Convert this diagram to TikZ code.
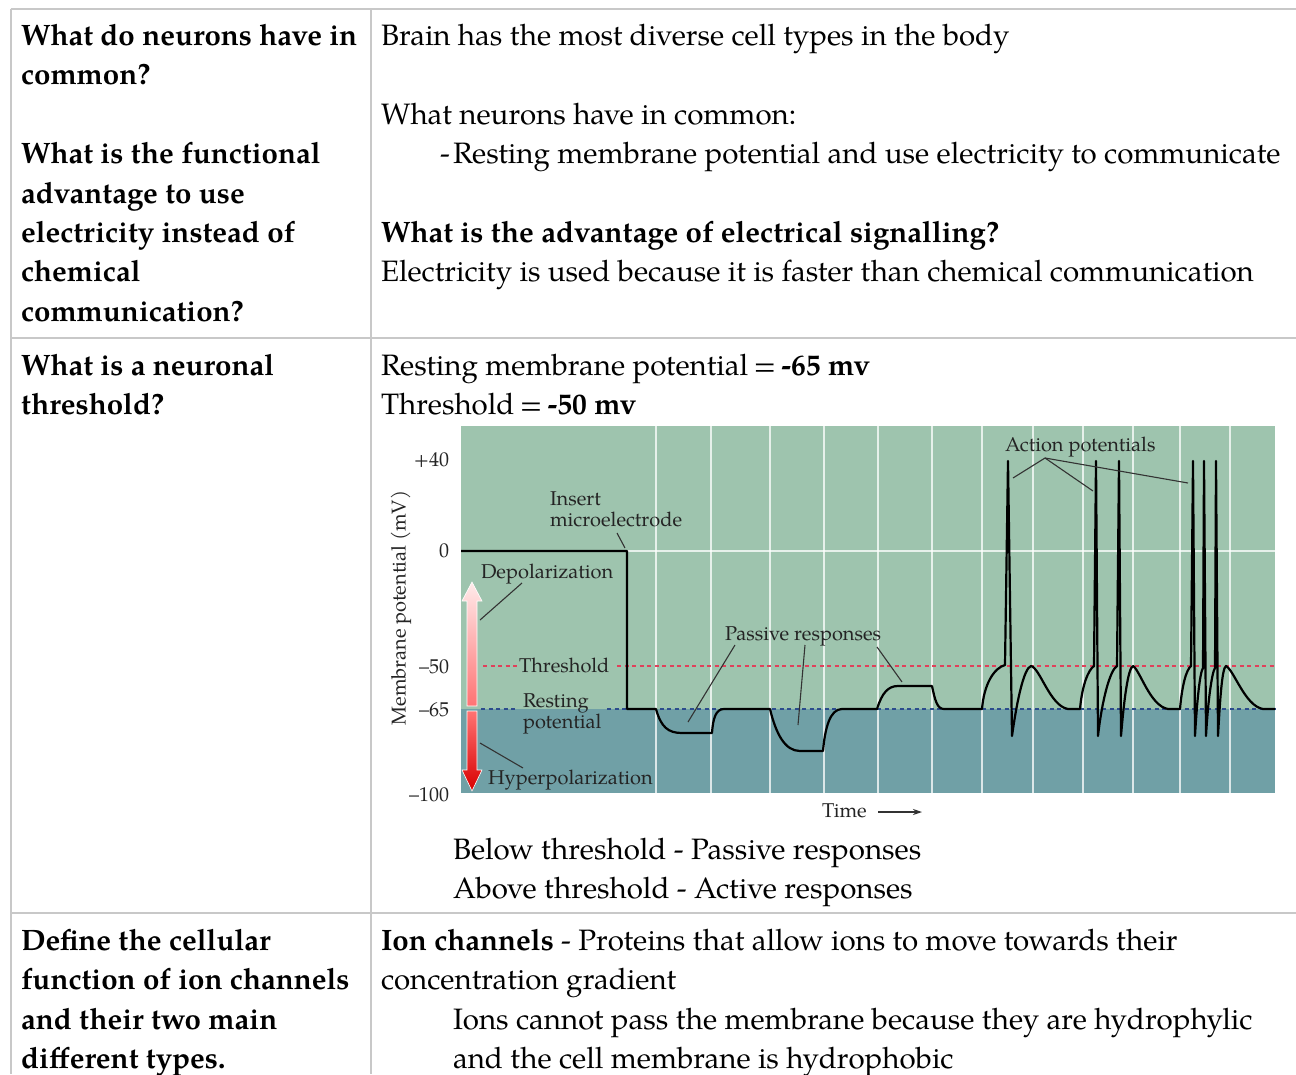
\documentclass[tikz,border=0pt]{standalone}
\usepackage{fontspec}
\setmainfont{texgyrepagella}[Extension=.otf, UprightFont=*-regular, BoldFont=*-bold, ItalicFont=*-italic, BoldItalicFont=*-bolditalic]
\usetikzlibrary{arrows.meta}
\definecolor{rulegray}{HTML}{C8C8C8}
\definecolor{upgreen}{HTML}{9EC4AE}
\definecolor{lowteal}{HTML}{70A0A6}
\definecolor{thrred}{HTML}{E0405A}
\definecolor{restblue}{HTML}{2C4C8C}
\definecolor{labtext}{HTML}{242424}
\definecolor{leadgray}{HTML}{333333}
\tikzset{
  body/.style={inner sep=0pt, outer sep=0pt, anchor=base west, font=\fontsize{29.5}{39.5}\selectfont, text=black},
  qbold/.style={body, font=\fontsize{29.5}{39.5}\selectfont\bfseries},
  lab/.style={inner sep=0pt, outer sep=0pt, anchor=base west, font=\fontsize{20}{22}\selectfont, text=labtext},
  tick/.style={lab, anchor=base east},
  tablerule/.style={draw=rulegray, line width=2pt},
  gridline/.style={draw=white, line width=1.5pt, opacity=0.75},
  leader/.style={draw=leadgray, line width=1.1pt},
  trace/.style={draw=black, line width=2.2pt, line join=round},
}
\begin{document}
\begin{tikzpicture}[x=1pt,y=-1pt]
\useasboundingbox (0,0) rectangle (1296,1074);
\fill[white] (0,0) rectangle (1296,1074);

% ---------- table rules ----------
\draw[tablerule] (10.5,8.5) -- (1296,8.5);
\draw[tablerule] (10.5,8.5) -- (10.5,1074);
\draw[tablerule] (370.5,8.5) -- (370.5,1074);
\draw[tablerule] (10.5,338) -- (1296,338);
\draw[tablerule] (10.5,913) -- (1296,913);

% ---------- row 1 ----------
\node[qbold] (q1a) at (21,45.5) {What do neurons have in};
\node[qbold] (q1b) at (21,84.9) {common?};
\node[qbold] (q1c) at (21,163.7) {What is the functional};
\node[qbold] (q1d) at (21,203.1) {advantage to use};
\node[qbold] (q1e) at (21,242.5) {electricity instead of};
\node[qbold] (q1f) at (21,281.9) {chemical};
\node[qbold] (q1g) at (21,321.3) {communication?};

\node[body] (a1a) at (381,45.5) {Brain has the most diverse cell types in the body};
\node[body] (a1b) at (381,124.3) {What neurons have in common:};
\node[body] (a1c) at (440,163.7) {-};
\node[body] (a1d) at (453,163.7) {Resting membrane potential and use electricity to communicate};
\node[qbold] (a1e) at (381,242.5) {What is the advantage of electrical signalling?};
\node[body] (a1f) at (381,281.9) {Electricity is used because it is faster than chemical communication};

% ---------- row 2 ----------
\node[qbold] (q2a) at (21,375.5) {What is a neuronal};
\node[qbold] (q2b) at (21,414.9) {threshold?};
\node[body] (a2a) at (381,375.5) {Resting membrane potential \kern-2pt=\kern-2pt{} \textbf{-65 mv}};
\node[body] (a2b) at (381,414.9) {Threshold \kern-2pt=\kern-2pt{} \textbf{-50 mv}};
\node[body] (a2c) at (453,859.5) {Below threshold - Passive responses};
\node[body] (a2d) at (453,898.9) {Above threshold - Active responses};

% ---------- chart ----------
\fill[upgreen] (461,426) rectangle (1275,709);
\fill[lowteal] (461,709) rectangle (1275,793);
\foreach \gx in {656,711,770,824,878,932,982,1033,1083,1133,1180,1230}
  \draw[gridline] (\gx,426) -- (\gx,793);
\draw[gridline] (627,551) -- (1275,551);

% threshold and resting lines
\draw[thrred, line width=2pt, dash pattern=on 4pt off 3.5pt] (483,666) -- (517,666);
\draw[thrred, line width=2pt, dash pattern=on 4pt off 3.5pt] (617,666) -- (1275,666);
\draw[restblue, line width=2pt, dash pattern=on 4pt off 3.5pt] (481,709) -- (517,709);
\draw[restblue, line width=2pt, dash pattern=on 4pt off 3.5pt] (607,709) -- (1275,709);

% depolarization / hyperpolarization arrows
\shade[top color=red!8!white, bottom color=red!55!white, draw=white, line width=0.6pt]
  (467,706) -- (467,601) -- (462,601) -- (472,582) -- (482,601) -- (477,601) -- (477,706) -- cycle;
\shade[top color=red!55!white, bottom color=red!85!black, draw=white, line width=0.6pt]
  (467,711) -- (467,770) -- (462,770) -- (472,791) -- (482,770) -- (477,770) -- (477,711) -- cycle;

% trace
\draw[trace] (461,551) -- (627,551) -- (627,709) -- (656,709)
  .. controls (661,727) and (668,733) .. (682,733) -- (712,733)
  .. controls (713,718) and (716,709) .. (724,709) -- (770,709)
  .. controls (776,734) and (785,751) .. (800,751) -- (823,751)
  .. controls (825,728) and (830,709) .. (842,709) -- (877,709)
  .. controls (882,693) and (888,686) .. (898,686) -- (932,686)
  .. controls (935,700) and (937,709) .. (944,709) -- (982,709)
  .. controls (984,684) and (994,668) .. (1005,665) -- (1008,461) -- (1012,736)
  .. controls (1017,700) and (1024,668) .. (1031,666)
  .. controls (1040,668) and (1050,706) .. (1068,709) -- (1080,709)
  .. controls (1082,686) and (1088,670) .. (1094,666) -- (1096,461) -- (1098,736)
  .. controls (1102,700) and (1110,670) .. (1117,666) -- (1119,461) -- (1121,736)
  .. controls (1124,700) and (1128,668) .. (1133,666)
  .. controls (1140,670) and (1150,706) .. (1168,709) -- (1180,709)
  .. controls (1182,686) and (1186,670) .. (1191,666) -- (1193,461) -- (1195,736)
  .. controls (1197,700) and (1200,672) .. (1203,668) -- (1204,461) -- (1206,736)
  .. controls (1208,700) and (1212,672) .. (1215,668) -- (1216,461) -- (1218,736)
  .. controls (1220,700) and (1222,668) .. (1226,666)
  .. controls (1234,670) and (1245,706) .. (1263,709) -- (1275,709);

% axis tick labels
\node[tick] (t40) at (449,466) {+40};
\node[tick] (t0) at (449,557) {0};
\node[tick] (t50) at (449,673) {–50};
\node[tick] (t65) at (449,716) {–65};
\node[tick] (t100) at (449,801) {–100};
\node[lab, anchor=center, rotate=90] (ylab) at (401,608) {Membrane potential (mV)};

% labels
\node[lab] (ins1) at (550,505) {Insert};
\node[lab] (ins2) at (550,526) {microelectrode};
\node[lab] (depol) at (481,578) {Depolarization};
\node[lab] (thr) at (519,672) {Threshold};
\node[lab] (rest1) at (523,707) {Resting};
\node[lab] (rest2) at (523,728) {potential};
\node[lab] (hyper) at (488,784) {Hyperpolarization};
\node[lab] (pass) at (725,640) {Passive responses};
\node[lab] (act) at (1005,451) {Action potentials};
\node[lab] (time) at (822,817) {Time};

% leader lines
\coordinate (insT) at (617,533); \coordinate (insH) at (625,548);
\draw[leader] (insT) -- (insH);
\coordinate (depT) at (522,583); \coordinate (depH) at (480,620);
\draw[leader] (depT) -- (depH);
\coordinate (hypT) at (523,768); \coordinate (hypH) at (480,743);
\draw[leader] (hypT) -- (hypH);
\coordinate (p1T) at (735,645); \coordinate (p1H) at (688,722);
\coordinate (p2T) at (805,645); \coordinate (p2H) at (798,725);
\coordinate (p3T) at (877,647); \coordinate (p3H) at (902,682);
\draw[leader] (p1T) -- (p1H);
\draw[leader] (p2T) -- (p2H);
\draw[leader] (p3T) -- (p3H);
\coordinate (aT) at (1045,458);
\coordinate (a1H) at (1013,478); \coordinate (a2H) at (1093,491); \coordinate (a3H) at (1188,483);
\draw[leader] (a1H) -- (aT) -- (a2H);
\draw[leader] (aT) -- (a3H);
\coordinate (timeS) at (878,812);
\coordinate (timeE) at (922,812);
\draw[leader, line width=1.2pt, -{Stealth[length=9pt,width=6pt]}] (timeS) -- (timeE);

% ---------- row 3 ----------
\node[qbold] (q3a) at (21,950.5) {Define the cellular};
\node[qbold] (q3b) at (21,989.9) {function of ion channels};
\node[qbold] (q3c) at (21,1029.3) {and their two main};
\node[qbold] (q3d) at (21,1068.7) {different types.};
\node[body] (a3a) at (381,950.5) {\textbf{Ion channels} - Proteins that allow ions to move towards their};
\node[body] (a3b) at (381,989.9) {concentration gradient};
\node[body] (a3c) at (453,1029.3) {Ions cannot pass the membrane because they are hydrophylic};
\node[body] (a3d) at (453,1068.7) {and the cell membrane is hydrophobic};
\end{tikzpicture}
\end{document}
